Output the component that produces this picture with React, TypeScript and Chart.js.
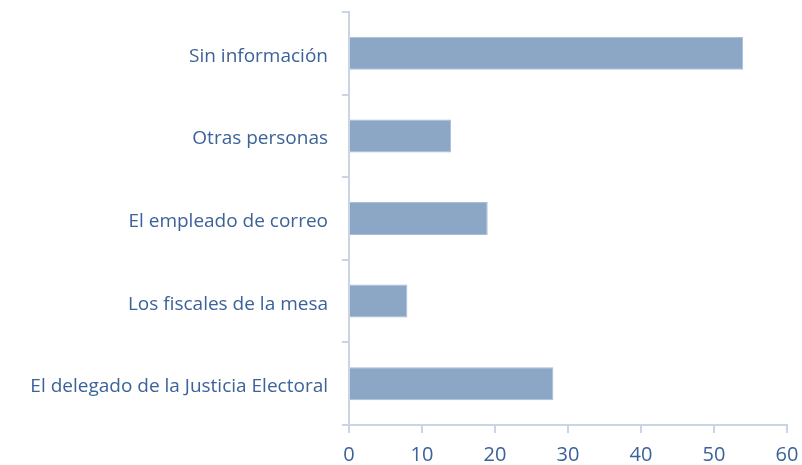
import React, { useEffect, useRef } from "react";
import { Chart, registerables } from "chart.js";

Chart.register(...registerables);

const categories = [
  "Sin información",
  "Otras personas",
  "El empleado de correo",
  "Los fiscales de la mesa",
  "El delegado de la Justicia Electoral",
];
const values = [54, 14, 19, 8, 28];
const xMin = 0;
const xMax = 60;
const xStep = 10;

const textColor = "#3B6299";
const axisColor = "#C9D5E4";
const barColor = "#8CA6C6";
const fontFamily = "'Open Sans', Lato, sans-serif";

export default function App() {
  const ref = useRef<HTMLCanvasElement>(null);
  useEffect(() => {
    document.body.style.margin = "0";
    const chart = new Chart(ref.current!, {
      type: "bar",
      data: {
        labels: categories,
        datasets: [
          {
            data: values,
            backgroundColor: barColor,
            borderColor: "#A9BDD6",
            borderWidth: 1,
            barPercentage: 0.8,
            categoryPercentage: 0.5,
          },
        ],
      },
      options: {
        indexAxis: "y",
        animation: false,
        responsive: false,
        layout: { padding: { top: 12, right: 15, left: 0, bottom: 0 } },
        plugins: { legend: { display: false }, tooltip: { enabled: false } },
        scales: {
          x: {
            min: xMin,
            max: xMax,
            ticks: {
              stepSize: xStep,
              color: textColor,
              font: { family: fontFamily, size: 20 },
              padding: 10,
            },
            grid: {
              drawOnChartArea: false,
              drawTicks: true,
              tickLength: 8,
              color: axisColor,
              lineWidth: 2,
            },
            border: { display: true, color: axisColor, width: 2 },
            afterFit: (s: any) => {
              s.height = 40;
              s.paddingLeft = 0;
              s.paddingRight = 0;
            },
          },
          y: {
            ticks: {
              color: textColor,
              font: { family: fontFamily, size: 19 },
              padding: 14,
              labelOffset: 3,
            },
            grid: {
              offset: true,
              drawOnChartArea: false,
              drawTicks: true,
              tickLength: 7,
              color: axisColor,
              lineWidth: 2,
            },
            border: { display: true, color: axisColor, width: 2 },
            afterFit: (s: any) => {
              s.width = 349;
              s.paddingTop = 0;
              s.paddingBottom = 0;
            },
          },
        },
      },
    });
    return () => chart.destroy();
  }, []);
  return (
    <div style={{ position: "absolute", left: 0, top: 0, width: 802, height: 465, background: "#fff" }}>
      <canvas ref={ref} width={802} height={465} />
    </div>
  );
}
